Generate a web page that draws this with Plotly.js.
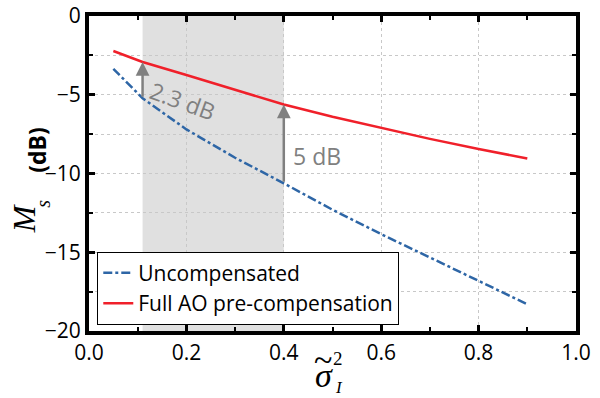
<!DOCTYPE html>
<html>
<head>
<meta charset="utf-8">
<script src="https://cdn.plot.ly/plotly-3.0.1.min.js"></script>
<style>html,body{margin:0;padding:0;background:#fff;}#chart{width:600px;height:398px;}</style>
</head>
<body>
<div id="chart"></div>
<script>
// Data
const sigmaX = [0.05, 0.11, 0.2, 0.3, 0.4, 0.5, 0.6, 0.7, 0.8, 0.9];
const uncompensated = [-3.35, -5.22, -7.2, -9.0, -10.62, -12.3, -13.85, -15.35, -16.8, -18.3];
const fullAO = [-2.22, -2.92, -3.75, -4.7, -5.62, -6.4, -7.1, -7.8, -8.44, -9.05];
const seriesNames = ['Uncompensated', 'Full AO pre-compensation'];
const shadeRange = [0.11, 0.4];
const gainLabels = ['2.3 dB', '5 dB'];
const xTicks = [0, 0.2, 0.4, 0.6, 0.8, 1.0];
const yTicks = [-20, -15, -10, -5, 0];

const gray = '#808080';
const serif = 'Liberation Serif, serif';
const sans = 'Open Sans, sans-serif';
const traces = [
  {x: sigmaX, y: uncompensated, name: seriesNames[0], mode: 'lines',
   line: {color: '#2e66a6', width: 2.5, dash: 'dashdot'}},
  {x: sigmaX, y: fullAO, name: seriesNames[1], mode: 'lines',
   line: {color: '#f0202a', width: 2.5}}
];

const annotations = [];
shadeRange.forEach((xv) => {
  const i = sigmaX.indexOf(xv);
  annotations.push({x: xv, y: fullAO[i], ax: xv, ay: uncompensated[i], xref: 'x', yref: 'y',
    axref: 'x', ayref: 'y', showarrow: true, arrowhead: 2, arrowsize: 1.1, arrowwidth: 2.5,
    arrowcolor: gray, text: '', standoff: 0, startstandoff: 0});
});
annotations.push({x: 0.193, y: -5.4, xref: 'x', yref: 'y', text: gainLabels[0], showarrow: false,
  textangle: 20, font: {family: sans, size: 23, color: gray}});
annotations.push({x: 0.415, y: -8.9, xref: 'x', yref: 'y', text: gainLabels[1], showarrow: false,
  xanchor: 'left', font: {family: sans, size: 23, color: gray}});

function label(x, y, text, family, size, angle) {
  annotations.push({xref: 'paper', yref: 'paper', x: x, y: y, text: text, showarrow: false,
    xanchor: 'center', yanchor: 'middle', textangle: angle || 0,
    font: {family: family, size: size, color: '#000'}});
}
// x-axis title: sigma with wide tilde, superscript 2 and subscript I stacked
label(0.4825, -0.140, '<i>σ</i>', serif, 34);
label(0.480, -0.092, '~', serif, 34);
label(0.512, -0.088, '2', serif, 19);
label(0.513, -0.179, '<i>I</i>', serif, 17);
// y-axis title: M_s (dB), rotated
label(-0.133, 0.359, '<i>M</i>', serif, 32, -90);
label(-0.094, 0.405, '<i>s</i>', serif, 20, -90);
label(-0.107, 0.575, '<b>(dB)</b>', sans, 23, -90);

const layout = {
  width: 600, height: 398,
  margin: {l: 89, r: 24, t: 16, b: 67},
  paper_bgcolor: '#fff', plot_bgcolor: '#fff',
  showlegend: true,
  font: {family: sans, size: 21, color: '#000'},
  legend: {x: 0.017, y: 0.02, xanchor: 'left', yanchor: 'bottom', bgcolor: '#fff',
    bordercolor: '#000', borderwidth: 1, font: {size: 21}, tracegroupgap: 0, itemwidth: 30},
  xaxis: {range: [0, 1], tickvals: xTicks, tickformat: '.1f', ticks: 'inside', ticklen: 6,
    tickwidth: 3, tickcolor: '#000', showline: true, linecolor: '#000', linewidth: 4,
    mirror: 'allticks', zeroline: false, showgrid: true, gridcolor: '#c8c8c8', griddash: 'dot',
    gridwidth: 1, minor: {dtick: 0.1, tick0: 0, ticks: 'inside', ticklen: 4, tickwidth: 2, tickcolor: '#000', showgrid: false},
    tickfont: {size: 21}},
  yaxis: {range: [-20, 0], tickvals: yTicks, ticks: 'inside', ticklen: 6, tickwidth: 3,
    tickcolor: '#000', showline: true, linecolor: '#000', linewidth: 4, mirror: 'allticks',
    zeroline: false, showgrid: true, gridcolor: '#c8c8c8', griddash: 'dot', gridwidth: 1,
    minor: {dtick: 2.5, tick0: 0, ticks: 'inside', ticklen: 4, tickwidth: 2, tickcolor: '#000', showgrid: true,
      gridcolor: '#c8c8c8', griddash: 'dot', gridwidth: 1},
    tickfont: {size: 21}},
  shapes: [{type: 'rect', xref: 'x', yref: 'paper', x0: shadeRange[0], x1: shadeRange[1], y0: 0, y1: 1,
    fillcolor: '#e0e0e0', line: {width: 0}, layer: 'below'}],
  annotations: annotations
};

Plotly.newPlot('chart', traces, layout, {displayModeBar: false, staticPlot: true});
</script>
</body>
</html>
